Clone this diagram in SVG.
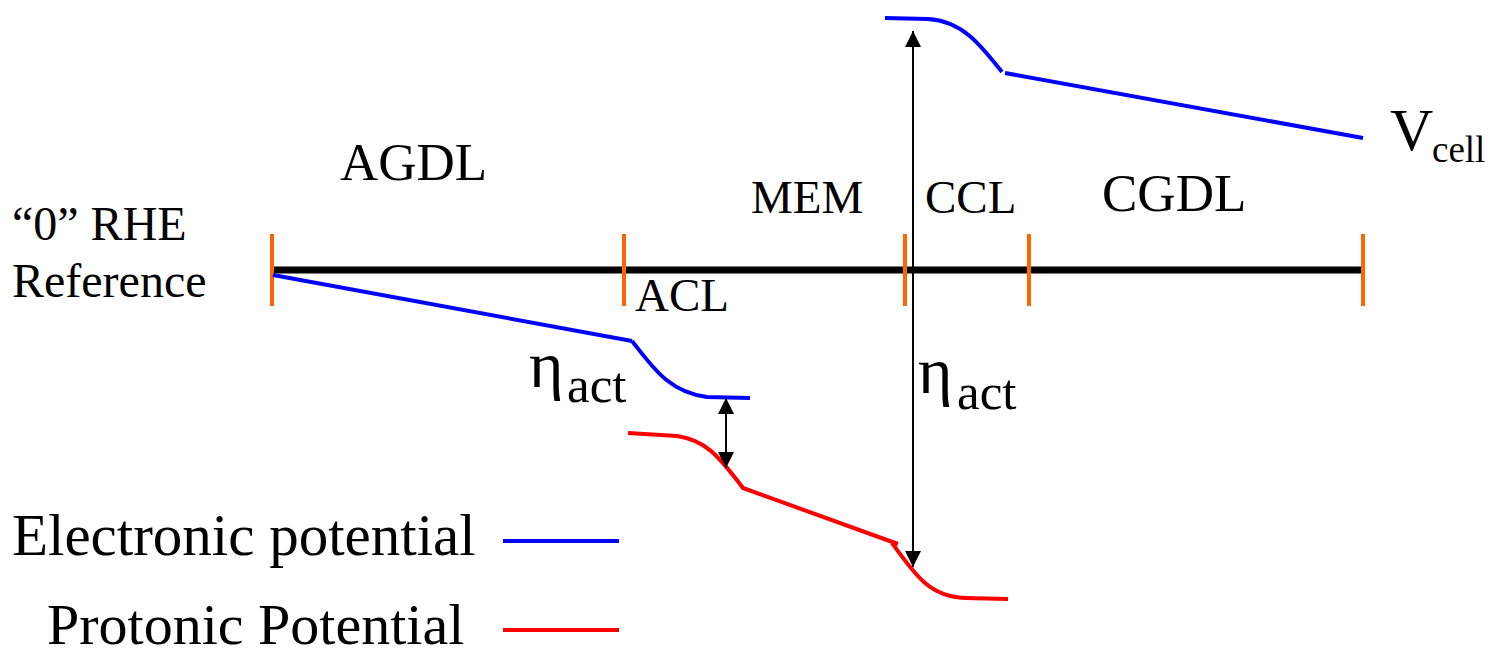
<svg xmlns="http://www.w3.org/2000/svg" width="1489" height="649" viewBox="0 0 1489 649">
  <style>
    .t { font-family: "Liberation Serif", "Times New Roman", serif; fill: #000; }
    .axis { stroke: #000; stroke-width: 7; fill: none; }
    .tick { stroke: #FF6600; stroke-width: 4; fill: none; }
    .blue { stroke: #0000FF; stroke-width: 4; fill: none; }
    .red { stroke: #FF0000; stroke-width: 4; fill: none; }
    .arr { stroke: #000; stroke-width: 2; fill: none; }
  </style>
  <defs>
    <marker id="ah" viewBox="0 0 16 16" refX="16" refY="8" markerWidth="16" markerHeight="16" markerUnits="userSpaceOnUse" orient="auto-start-reverse">
      <path d="M0,0 L16,8 L0,16 Z" fill="#000"/>
    </marker>
  </defs>

  <rect width="1489" height="649" fill="#fff"/>

  <g id="axis">
    <line class="axis" x1="272" y1="270" x2="1363" y2="270"/>
    <line class="tick" x1="272" y1="234" x2="272" y2="306"/>
    <line class="tick" x1="624" y1="234" x2="624" y2="306"/>
    <line class="tick" x1="905" y1="234" x2="905" y2="306"/>
    <line class="tick" x1="1029" y1="234" x2="1029" y2="306"/>
    <line class="tick" x1="1363" y1="234" x2="1363" y2="306"/>
  </g>

  <g id="electronic-potential">
    <line class="blue" x1="273" y1="275" x2="632" y2="341"/>
    <path class="blue" d="M632,341 C652,366 668,392 707,397 L750,398"/>
    <path class="blue" d="M885,18 L928,19 C962,21 980,44 1002,72"/>
    <line class="blue" x1="1005" y1="73" x2="1363" y2="138"/>
  </g>

  <g id="protonic-potential">
    <path class="red" d="M628,433 L677,436 C705,440 718,455 743,488 L898,544"/>
    <path class="red" d="M892,543 C915,575 930,597 965,598 L1008,599"/>
  </g>

  <g id="connectors">
    <line class="arr" x1="913" y1="31" x2="913" y2="567" marker-start="url(#ah)" marker-end="url(#ah)"/>
    <line class="arr" x1="726" y1="398" x2="726" y2="468" marker-start="url(#ah)" marker-end="url(#ah)"/>
  </g>

  <g id="labels">
    <text class="t" x="340" y="180" font-size="53">AGDL</text>
    <text class="t" x="12" y="240" font-size="48">“0” RHE</text>
    <text class="t" x="12" y="297" font-size="48">Reference</text>
    <text class="t" x="751" y="213" font-size="47">MEM</text>
    <text class="t" x="925" y="213" font-size="47">CCL</text>
    <text class="t" x="1102" y="211" font-size="53">CGDL</text>
    <text class="t" x="635" y="311" font-size="47">ACL</text>
    <g id="eta-left">
      <text class="t" x="529" y="387" font-size="66">η</text>
      <text class="t" x="567" y="402" font-size="51">act</text>
    </g>
    <g id="eta-right">
      <text class="t" x="918" y="393" font-size="66">η</text>
      <text class="t" x="957" y="409" font-size="51">act</text>
    </g>
    <g id="vcell">
      <text class="t" x="1390" y="150" font-size="60">V</text>
      <text class="t" x="1432" y="162" font-size="37">cell</text>
    </g>
  </g>

  <g id="legend">
    <text class="t" x="12" y="555" font-size="59">Electronic potential</text>
    <line class="blue" x1="503" y1="541" x2="619" y2="541"/>
    <text class="t" x="47" y="644" font-size="58">Protonic Potential</text>
    <line class="red" x1="503" y1="630" x2="619" y2="630"/>
  </g>
</svg>
